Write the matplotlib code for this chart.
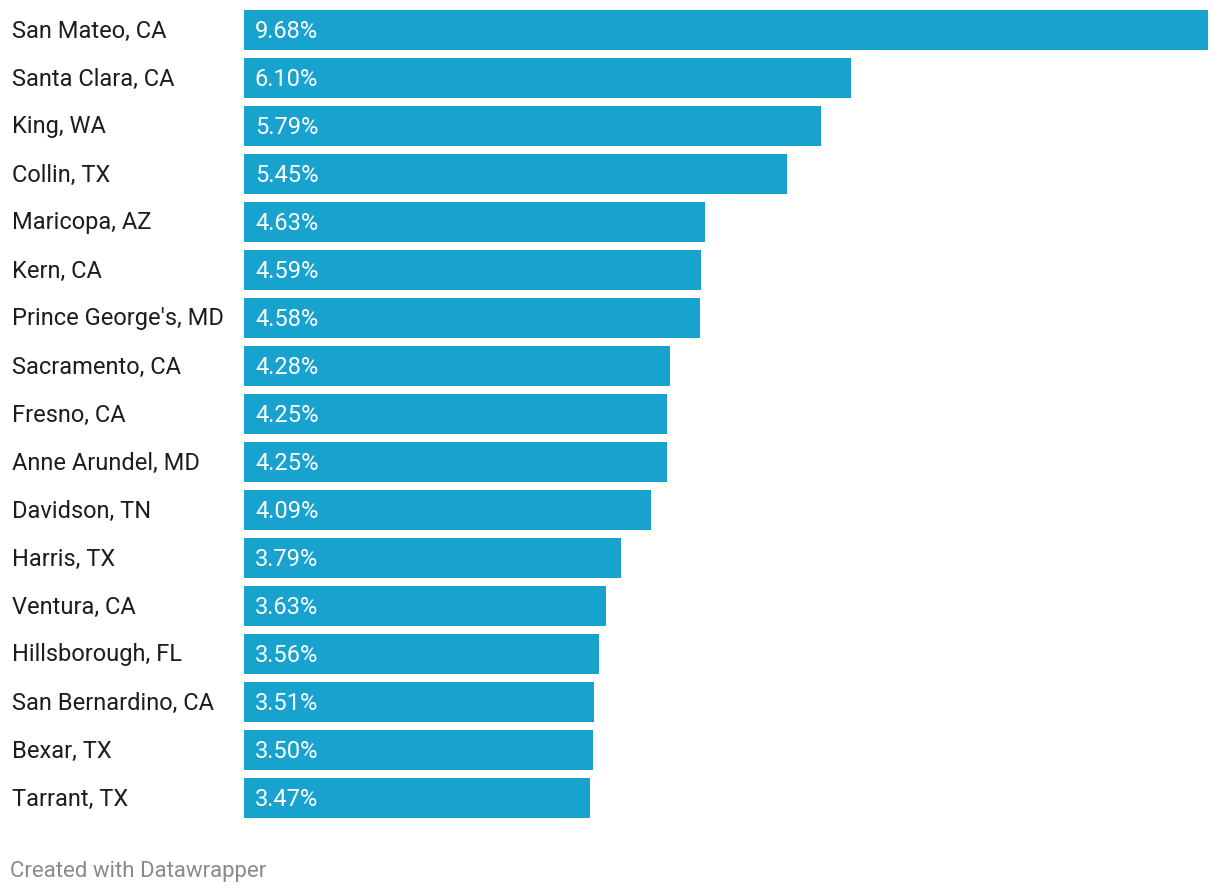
import matplotlib
matplotlib.use('Agg')
import matplotlib.pyplot as plt
from matplotlib.transforms import blended_transform_factory, offset_copy

counties = ['San Mateo, CA', 'Santa Clara, CA', 'King, WA', 'Collin, TX',
            'Maricopa, AZ', 'Kern, CA', "Prince George's, MD", 'Sacramento, CA',
            'Fresno, CA', 'Anne Arundel, MD', 'Davidson, TN', 'Harris, TX',
            'Ventura, CA', 'Hillsborough, FL', 'San Bernardino, CA', 'Bexar, TX',
            'Tarrant, TX']
valores = [9.68, 6.10, 5.79, 5.45, 4.63, 4.59, 4.58, 4.28, 4.25, 4.25,
           4.09, 3.79, 3.63, 3.56, 3.51, 3.50, 3.47]

plt.rcParams['font.family'] = ['Roboto', 'DejaVu Sans']

W, H = 1220, 894
fig = plt.figure(figsize=(W / 100, H / 100), dpi=100)
ax = fig.add_axes([244 / W, 1 - 822 / H, (1208 - 244) / W, 816 / H])

pos = list(range(len(counties)))
ax.barh(pos, valores, height=40 / 48, color='#18a2ce', left=0)
ax.set_xlim(0, max(valores))
ax.set_ylim(len(counties) - 0.5, -0.5)
ax.axis('off')

trans = blended_transform_factory(fig.transFigure, ax.transData)
trans = offset_copy(trans, fig=fig, y=-1, units='dots')
for i, (nome, v) in enumerate(zip(counties, valores)):
    ax.text(12 / W, i, nome, transform=trans, ha='left', va='center',
            fontsize=17, color='#1d1d1d')
    ax.text(11 / W + 244 / W, i, f'{v:.2f}%', transform=trans, ha='left',
            va='center', fontsize=17, color='white')

fig.text(10 / W, 1 - 871 / H, 'Created with Datawrapper', ha='left',
         va='center', fontsize=16, color='#8a8a8a')

fig.savefig('out.png', dpi=100)
